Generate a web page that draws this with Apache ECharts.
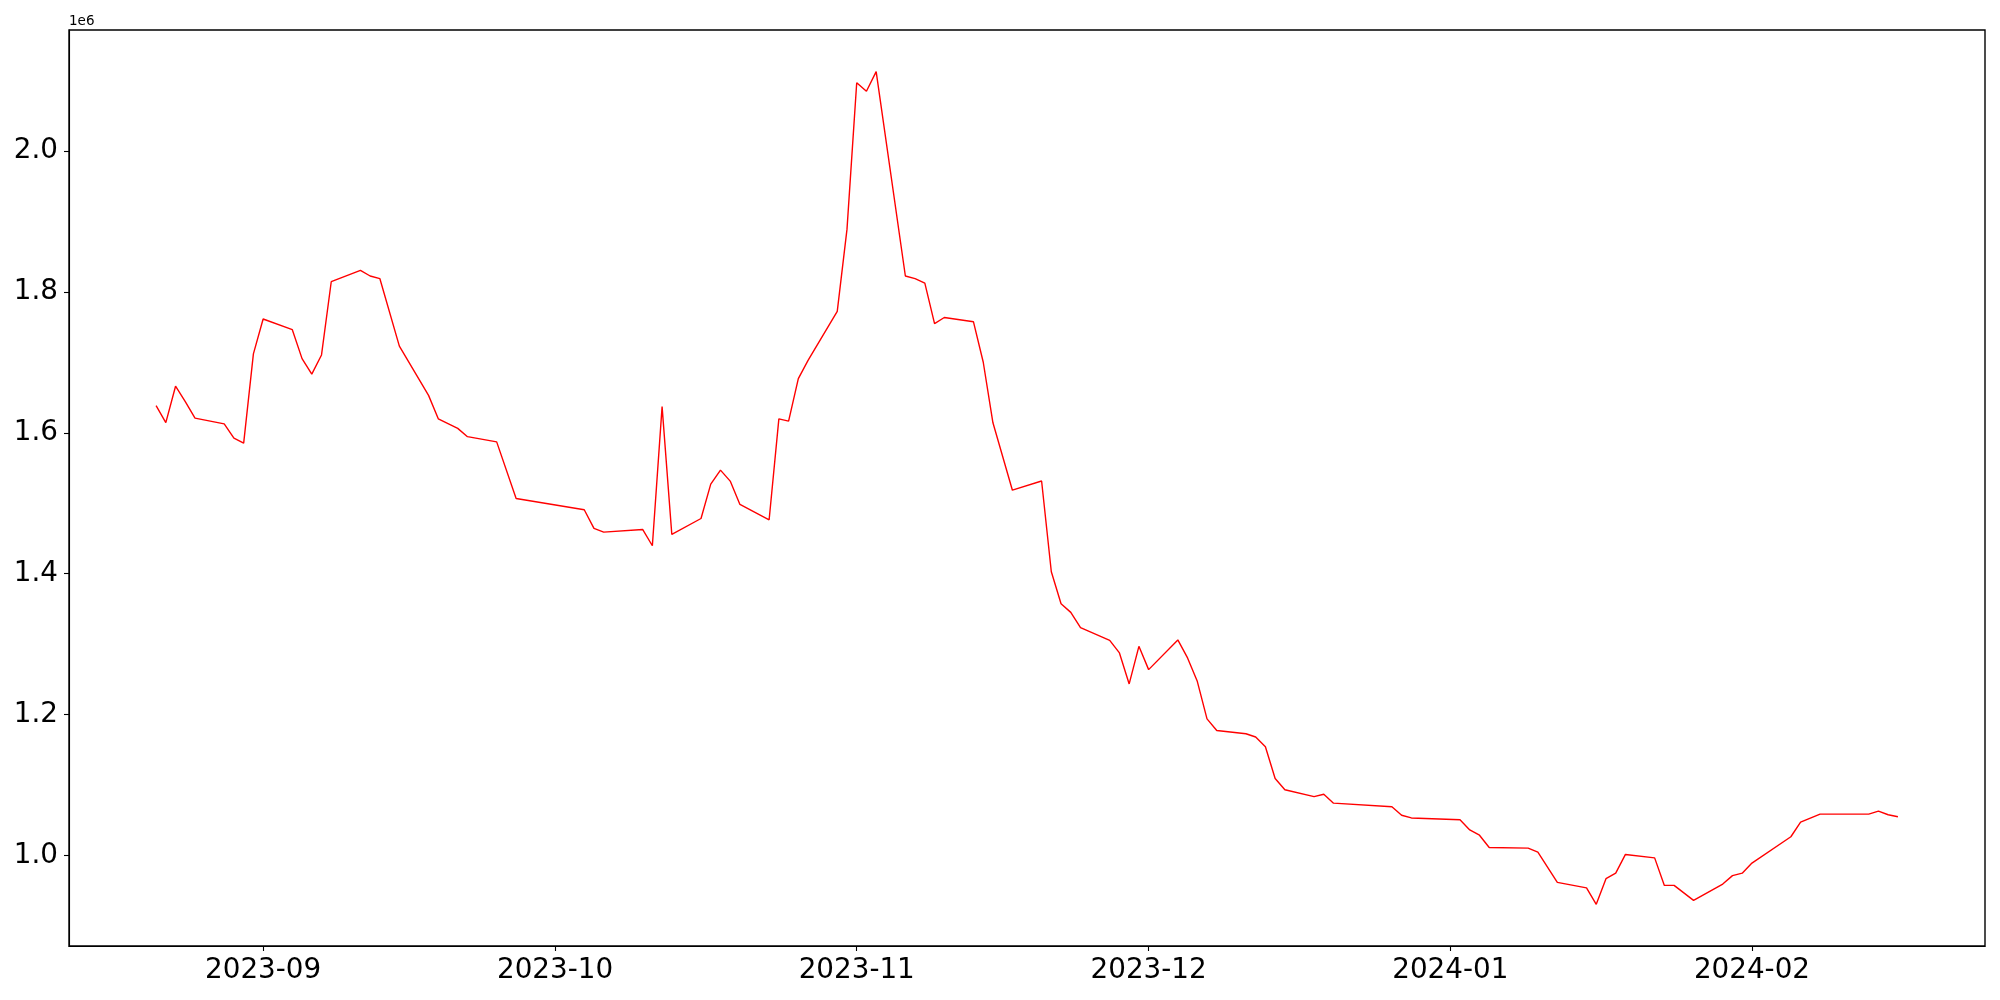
<!DOCTYPE html>
<html>
<head>
<meta charset="utf-8">
<script src="https://cdn.jsdelivr.net/npm/echarts@6/dist/echarts.min.js"></script>
<style>
  html, body { margin: 0; padding: 0; background: #fff; }
  #chart { width: 2000px; height: 1000px; }
</style>
</head>
<body>
<div id="chart"></div>
<script>
// ---- data ----
const dates = [
  '2023-08-21','2023-08-22','2023-08-23','2023-08-24','2023-08-25',
  '2023-08-28','2023-08-29','2023-08-30','2023-08-31','2023-09-01',
  '2023-09-04','2023-09-05','2023-09-06','2023-09-07','2023-09-08',
  '2023-09-11','2023-09-12','2023-09-13','2023-09-15',
  '2023-09-18','2023-09-19','2023-09-21','2023-09-22',
  '2023-09-25','2023-09-27',
  '2023-10-04','2023-10-05','2023-10-06',
  '2023-10-10','2023-10-11','2023-10-12','2023-10-13',
  '2023-10-16','2023-10-17','2023-10-18','2023-10-19','2023-10-20',
  '2023-10-23','2023-10-24','2023-10-25','2023-10-26','2023-10-27',
  '2023-10-30','2023-10-31','2023-11-01','2023-11-02','2023-11-03',
  '2023-11-06','2023-11-07','2023-11-08','2023-11-09','2023-11-10',
  '2023-11-13','2023-11-14','2023-11-15','2023-11-17',
  '2023-11-20','2023-11-21','2023-11-22','2023-11-23','2023-11-24',
  '2023-11-27','2023-11-28','2023-11-29','2023-11-30','2023-12-01',
  '2023-12-04','2023-12-05','2023-12-06','2023-12-07','2023-12-08',
  '2023-12-11','2023-12-12','2023-12-13','2023-12-14','2023-12-15',
  '2023-12-18','2023-12-19','2023-12-20',
  '2023-12-26','2023-12-27','2023-12-28',
  '2024-01-02','2024-01-03','2024-01-04','2024-01-05',
  '2024-01-09','2024-01-10','2024-01-12',
  '2024-01-15','2024-01-16','2024-01-17','2024-01-18','2024-01-19',
  '2024-01-22','2024-01-23','2024-01-24','2024-01-26',
  '2024-01-29','2024-01-30','2024-01-31','2024-02-01',
  '2024-02-05','2024-02-06','2024-02-08',
  '2024-02-13','2024-02-14','2024-02-15','2024-02-16'
];
const values = [
  1638700,1614600,1666200,1644400,1620900,
  1612800,1592500,1585400,1712100,1761700,
  1746500,1705400,1683300,1710600,1814600,
  1830800,1822700,1818900,1723100,
  1653200,1619900,1606400,1594600,
  1587200,1506800,
  1490800,1464300,1459100,
  1462800,1439700,1637300,1455700,
  1478400,1527200,1547100,1531500,1498300,
  1476600,1619900,1616600,1676900,1703000,
  1772500,1888900,2097200,2085000,2112900,
  1822700,1819000,1812500,1755200,1763800,
  1757700,1700600,1614300,1518600,
  1531600,1402800,1357400,1345100,1323400,
  1305400,1287500,1243500,1296900,1263800,
  1306000,1280400,1247200,1193900,1177300,
  1172800,1168100,1154300,1109200,1093200,
  1083400,1086800,1074200,
  1069200,1057000,1053200,
  1050600,1036200,1028700,1011300,
  1010400,1004700,961700,
  953900,930500,967000,974900,1001400,
  996500,957400,957400,936200,
  959300,971300,974800,989100,
  1026500,1047200,1058600,
  1058600,1062800,1057700,1054900
];
const yTickValues = [1.0e6, 1.2e6, 1.4e6, 1.6e6, 1.8e6, 2.0e6];
const xTickMonths = ['2023-09-01','2023-10-01','2023-11-01','2023-12-01','2024-01-01','2024-02-01'];

// ---- build ----
function toTs(s) { const p = s.split('-').map(Number); return new Date(p[0], p[1]-1, p[2]).getTime(); }
const seriesData = dates.map((d, i) => [toTs(d), values[i]]);
const xs = seriesData.map(p => p[0]);
const xMinD = Math.min(...xs), xMaxD = Math.max(...xs);
const yMinD = Math.min(...values), yMaxD = Math.max(...values);
const xPad = (xMaxD - xMinD) * 0.05, yPad = (yMaxD - yMinD) * 0.05;
const xTicks = xTickMonths.map(toTs);

const FONT = 'DejaVu Sans';
const chart = echarts.init(document.getElementById('chart'), null, { renderer: 'canvas' });
chart.setOption({
  animation: false,
  backgroundColor: '#ffffff',
  grid: {
    left: 69, right: 15, top: 30, bottom: 54,
    show: true, borderColor: '#000000', borderWidth: 1.4,
    containLabel: false, outerBoundsMode: 'none'
  },
  graphic: [{
    type: 'text', left: 69, top: 14,
    style: { text: '1e6', fontSize: 13.5, fontFamily: FONT, fill: '#000' }
  }],
  xAxis: {
    type: 'time',
    min: xMinD - xPad, max: xMaxD + xPad,
    axisLine: { show: true, lineStyle: { color: '#000', width: 1.1 } },
    splitLine: { show: false },
    axisTick: { show: true, inside: false, length: 5, lineStyle: { color: '#000', width: 1.1 }, customValues: xTicks },
    axisLabel: {
      customValues: xTicks,
      formatter: '{yyyy}-{MM}',
      fontSize: 27.8, fontFamily: FONT, color: '#000', margin: 11,
      hideOverlap: false, showMinLabel: true, showMaxLabel: true
    }
  },
  yAxis: {
    type: 'value',
    min: yMinD - yPad, max: yMaxD + yPad,
    axisLine: { show: true, lineStyle: { color: '#000', width: 1.1 } },
    splitLine: { show: false },
    axisTick: { show: true, inside: false, length: 5, lineStyle: { color: '#000', width: 1.1 }, customValues: yTickValues },
    axisLabel: {
      customValues: yTickValues,
      formatter: v => (v / 1e6).toFixed(1),
      fontSize: 27.8, fontFamily: FONT, color: '#000', margin: 11
    }
  },
  series: [{
    type: 'line',
    data: seriesData,
    showSymbol: false,
    lineStyle: { color: '#ff0000', width: 1.4 },
    itemStyle: { color: '#ff0000' }
  }]
});
</script>
</body>
</html>
